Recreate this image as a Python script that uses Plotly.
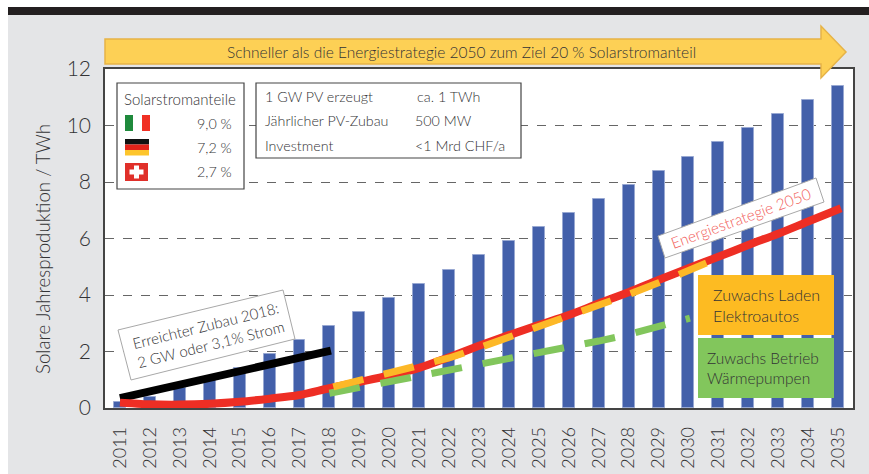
import plotly.graph_objects as go

W, H = 869, 474
L, R, T, B = 105, 853, 69, 408

years = list(range(2011, 2036))
production = [0.2, 0.4, 0.7, 1.0, 1.4, 1.9, 2.4, 2.9, 3.4, 3.9, 4.4, 4.9, 5.4, 5.9, 6.4,
              6.9, 7.4, 7.9, 8.4, 8.9, 9.4, 9.9, 10.4, 10.9, 11.4]
strategy_x = years[:-1] + [2035.1]
strategy = [0.19, 0.13, 0.12, 0.15, 0.22, 0.33, 0.46, 0.7, 0.92, 1.15, 1.42, 1.8, 2.2, 2.58, 2.94,
            3.29, 3.7, 4.1, 4.53, 4.95, 5.35, 5.77, 6.17, 6.6, 7.07]
achieved_x = [2011, 2018.05]
achieved_y = [0.35, 2.03]
ev_x = [2018.13, 2019, 2020, 2021, 2022, 2023, 2024, 2025, 2026, 2027, 2028, 2029, 2030, 2030.6]
ev_y = [0.75, 0.98, 1.2, 1.45, 1.77, 2.13, 2.5, 2.86, 3.22, 3.62, 4.02, 4.43, 4.88, 5.13]
hp_x = [2018, 2019, 2020, 2021, 2022, 2023, 2024, 2025, 2026, 2027, 2028, 2029, 2030.05]
hp_y = [0.52, 0.72, 0.93, 1.14, 1.34, 1.58, 1.77, 1.95, 2.14, 2.37, 2.6, 2.88, 3.18]
y_ticks = [0, 2, 4, 6, 8, 10, 12]

FONT = "Lato Light, Lato, sans-serif"
TXT = "#333335"
px = lambda x: (x - L) / (R - L)
py = lambda y: (B - y) / (B - T)

def rect(x0, y0, x1, y1, fill, line=None, lw=1, layer="above"):
    return dict(type="rect", xref="paper", yref="paper", x0=px(x0), x1=px(x1), y0=py(y0), y1=py(y1),
                fillcolor=fill, line=dict(color=line or fill, width=lw if line else 0), layer=layer)

def poly(pts, fill, line=None, lw=1, layer="above"):
    d = "M" + " L".join(f"{px(a):.5f},{py(b):.5f}" for a, b in pts) + " Z"
    return dict(type="path", xref="paper", yref="paper", path=d, fillcolor=fill,
                line=dict(color=line or fill, width=lw if line else 0), layer=layer)

def text(x, y, s, size=14.3, color=TXT, anchor="left", angle=0, align="left"):
    if anchor == "left":
        x -= 2
    return dict(xref="paper", yref="paper", x=px(x), y=py(y), text=s, showarrow=False, xanchor=anchor,
                yanchor="middle", align=align, textangle=angle, font=dict(family=FONT, size=size, color=color))

fig = go.Figure()
fig.add_bar(x=years, y=production, width=0.4, marker=dict(color="#4360aa", line=dict(color="#98a8d2", width=1)))
fig.add_scatter(x=achieved_x, y=achieved_y, mode="lines", line=dict(color="#000000", width=8))
fig.add_scatter(x=strategy_x, y=strategy, mode="lines", line=dict(color="#ee2e24", width=8, shape="spline"))
fig.add_scatter(x=hp_x, y=hp_y, mode="lines", line=dict(color="#82c65c", width=7, dash="31px,21px"))
fig.add_scatter(x=ev_x, y=ev_y, mode="lines", line=dict(color="#fdb827", width=7, dash="31px,21px"))

shapes = [
    rect(0, 0, 8, H, "#ffffff", layer="below"),
    rect(0, 0, W, 7, "#ffffff", layer="below"),
    rect(8, 7, W, 15, "#231f20", layer="below"),
    poly([(105, 39), (821, 39), (821, 26), (846, 52), (821, 78), (821, 64), (105, 64)], "#fdd055", "#e6b347", 1.5),
    rect(117, 83, 244, 189, "#ffffff", "#444444", 1.2),
    rect(256, 83, 521, 158, "#ffffff", "#444444", 1.2),
    rect(125, 115, 133, 131, "#1f8a3c"), rect(133, 115, 142, 131, "#ffffff"), rect(142, 115, 150, 131, "#f03024"),
    rect(125, 139, 149, 144.5, "#111111"), rect(125, 144.5, 149, 150, "#e2231a"), rect(125, 150, 149, 155.5, "#fdc52c"),
    rect(125, 163, 148, 181, "#e0302a"), rect(134, 165.5, 139, 178.5, "#ffffff"), rect(129.5, 169.5, 143.5, 174.5, "#ffffff"),
    poly([(118, 330), (283, 290), (295, 339), (131, 380)], "#ffffff", "#a8a8a8", 1),
    poly([(658, 236), (816, 178), (824, 202), (665, 258)], "#ffffff", "#a8a8a8", 1),
    rect(698, 275, 834, 335, "#fdbb22"),
    rect(698, 338, 834, 398, "#82c65c"),
]

annotations = [
    text(461, 52, "Schneller als die Energiestrategie 2050 zum Ziel 20 % Solarstromanteil", 15.5, anchor="center"),
    text(124, 99, "Solarstromanteile", 15),
    text(197, 124, "9,0 %"), text(197, 147, "7,2 %"), text(197, 171, "2,7 %"),
    text(265, 96, "1 GW PV erzeugt"), text(417, 96, "ca. 1 TWh"),
    text(265, 120, "Jährlicher PV-Zubau"), text(415, 120, "500 MW"),
    text(265, 145, "Investment"), text(415, 145, "<1 Mrd CHF/a"),
    text(208, 335, "Erreichter Zubau 2018:<br>2 GW oder 3,1% Strom", 15, anchor="center", angle=-14),
    text(741, 218, "Energiestrategie 2050", 15.5, color="#f2605a", anchor="center", angle=-20),
    text(713, 305, "Zuwachs Laden<br>Elektroautos", 16),
    text(707, 368, "Zuwachs Betrieb<br>Wärmepumpen", 15.5),
    text(43, 249, "Solare Jahresproduktion / TWh", 18.7, anchor="center", angle=-90),
]

fig.update_layout(
    width=W, height=H, autosize=False, showlegend=False, bargap=0,
    margin=dict(l=L, r=W - R, t=T, b=H - B, autoexpand=False),
    paper_bgcolor="#e4e5e7", plot_bgcolor="#ffffff",
    font=dict(family=FONT, color=TXT),
    shapes=shapes, annotations=annotations,
    xaxis=dict(range=[2010.5, 2035.5], tickmode="array", tickvals=years, ticktext=[str(y) for y in years],
               tickangle=-90, tickfont=dict(size=18, color=TXT), ticks="", showgrid=False, zeroline=False,
               showline=True, linecolor="#444444", linewidth=1.5, mirror=True, ticklabelstandoff=10),
    yaxis=dict(range=[0, 12], tickmode="array", tickvals=y_ticks, tickfont=dict(size=21, color=TXT), ticks="",
               showgrid=True, gridcolor="#666666", griddash="dash", gridwidth=1, zeroline=False,
               showline=True, linecolor="#444444", linewidth=1.5, mirror=True, ticklabelstandoff=8),
)
fig.write_html("out.html", config={"displayModeBar": False},
               post_script="document.body.style.margin='0';document.body.style.overflow='hidden';")
